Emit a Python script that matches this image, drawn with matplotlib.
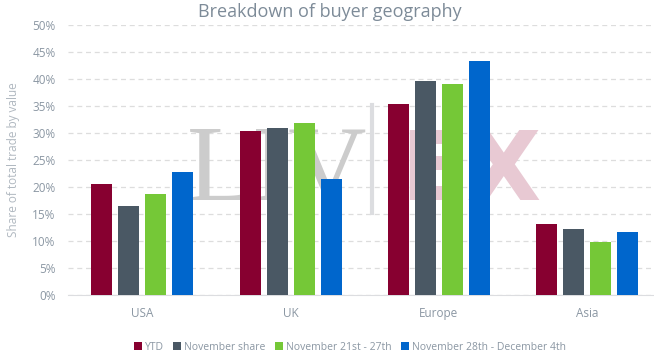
import numpy as np
import matplotlib.pyplot as plt
from matplotlib.ticker import PercentFormatter

plt.rcParams['font.family'] = ['Open Sans', 'DejaVu Sans']

regions = ['USA', 'UK', 'Europe', 'Asia']
series = ['YTD', 'November share', 'November 21st - 27th', 'November 28th - December 4th']
ytd = [20.6, 30.4, 35.4, 13.1]
nov_share = [16.5, 30.9, 39.6, 12.2]
nov_21_27 = [18.7, 31.9, 39.1, 9.8]
nov28_dec4 = [22.8, 21.5, 43.3, 11.7]
colors = ['#870030', '#4a5864', '#75c837', '#0066cc']

fig = plt.figure(figsize=(6.54, 3.61), dpi=100)
ax = fig.add_axes([0.104, 0.183, 0.896, 0.748])

x = np.arange(len(regions))
w = 0.142
step = 0.182
for i, (vals, c, lab) in enumerate(zip([ytd, nov_share, nov_21_27, nov28_dec4], colors, series)):
    ax.bar(x + (i - 1.5) * step, vals, w, color=c, label=lab, zorder=3)

# watermark (Liv-ex logo)
ax.text(0.30, 17.6, 'LIV', fontsize=78, family='Liberation Serif', color='#cccccc',
        ha='left', va='baseline', zorder=1)
ax.plot([1.55, 1.55], [15.2, 35.2], color='#dcdde0', lw=3, zorder=1)
ax.text(1.74, 17.6, 'EX', fontsize=70, family='DejaVu Sans', weight='bold',
        color='#e8c9d3', ha='left', va='baseline', zorder=1)

ax.set_xlim(-0.5, 3.45)
ax.set_ylim(0, 50)
ax.set_yticks(np.arange(0, 51, 5))
ax.yaxis.set_major_formatter(PercentFormatter(decimals=0))
ax.set_xticks(x)
ax.set_xticklabels(regions)
ax.grid(axis='y', color='#dddddd', ls=(0, (4, 3)), lw=0.9, zorder=0)
ax.set_axisbelow(True)
for s in ['top', 'right', 'left']:
    ax.spines[s].set_visible(False)
ax.spines['bottom'].set_color('#dcdde0')
ax.tick_params(axis='both', length=0, colors='#8b97a3', labelsize=8.5)
ax.tick_params(axis='x', pad=9)
ax.tick_params(axis='y', pad=9)
ax.set_ylabel('Share of total trade by value', color='#b0b8c0', fontsize=8.5, labelpad=9)

fig.text(0.505, 0.966, 'Breakdown of buyer geography', ha='center', va='center',
         fontsize=13, color='#7d8b98')

fig.legend(loc='center', bbox_to_anchor=(0.535, 0.038), ncol=4, frameon=False,
           fontsize=7.5, handlelength=0.75, handleheight=0.75, handletextpad=0.3,
           columnspacing=0.9, labelcolor='#8b97a3')

fig.savefig('out.png', dpi=100)
